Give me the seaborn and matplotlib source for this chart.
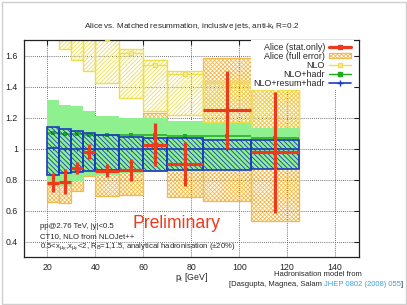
import matplotlib
matplotlib.use("Agg")
import matplotlib.pyplot as plt
from matplotlib.lines import Line2D
from matplotlib.patches import Patch, Rectangle
import pandas as pd
import seaborn as sns

# pt bins [GeV]
bin_lo = [20, 25, 30, 35, 40, 50, 60, 70, 85, 105]
bin_hi = [25, 30, 35, 40, 50, 60, 70, 85, 105, 125]

# Alice ratio, stat error and full error band
alice = [0.78, 0.785, 0.873, 0.98, 0.858, 0.86, 1.024, 0.90, 1.25, 0.975]
alice_stat = [0.06, 0.08, 0.04, 0.05, 0.045, 0.07, 0.14, 0.14, 0.25, 0.39]
alice_full_lo = [0.652, 0.648, 0.723, 0.82, 0.695, 0.70, 0.88, 0.686, 0.66, 0.533]
alice_full_hi = [0.91, 0.93, 1.02, 1.142, 1.02, 1.02, 1.232, 1.12, 1.587, 1.40]

# NLO
nlo = [1.85, 1.78, 1.74, 1.72, 1.71, 1.615, 1.54, 1.48, 1.42, 1.38]
nlo_lo = [1.72, 1.643, 1.57, 1.50, 1.422, 1.325, 1.24, 1.217, 1.17, 1.13]
nlo_hi = [2.0, 1.95, 1.9, 1.85, 1.9, 1.643, 1.568, 1.497, 1.437, 1.40]

# NLO+hadr
hadr = [1.097, 1.094, 1.092, 1.09, 1.088, 1.086, 1.084, 1.083, 1.082, 1.067]
hadr_lo = [0.76, 0.76, 0.79, 0.82, 0.83, 0.84, 0.85, 0.855, 0.86, 0.865]
hadr_hi = [1.314, 1.282, 1.271, 1.243, 1.211, 1.196, 1.196, 1.179, 1.164, 1.132]

# NLO+resum+hadr
resum = [1.003, 1.0, 1.0, 1.0, 0.998, 0.997, 0.997, 0.997, 0.997, 0.997]
resum_lo = [0.83, 0.841, 0.85, 0.852, 0.862, 0.852, 0.855, 0.862, 0.862, 0.867]
resum_hi = [1.138, 1.125, 1.11, 1.10, 1.088, 1.077, 1.07, 1.067, 1.056, 1.056]

x_ticks = [20, 40, 60, 80, 100, 120, 140]
y_ticks = [0.4, 0.6, 0.8, 1.0, 1.2, 1.4, 1.6]
y_ticklabels = ["0.4", "0.6", "0.8", "1", "1.2", "1.4", "1.6"]

RED = "#ee3a1c"
ORANGE = "#f5b94a"
YELLOW = "#eede4e"
GREEN_FILL = "#8ff08f"
GREEN = "#1faa1f"
BLUE = "#1c3cbc"
LINK = "#3fa2dc"

sns.set_style("white")
plt.rcParams["font.family"] = ["Liberation Sans", "DejaVu Sans"]
plt.rcParams["mathtext.default"] = "regular"
plt.rcParams["hatch.linewidth"] = 0.6

df = pd.DataFrame({
    "lo": bin_lo, "hi": bin_hi,
    "alice": alice, "stat": alice_stat,
    "full_lo": alice_full_lo, "full_hi": alice_full_hi,
    "nlo": nlo, "nlo_lo": nlo_lo, "nlo_hi": nlo_hi,
    "hadr": hadr, "hadr_lo": hadr_lo, "hadr_hi": hadr_hi,
    "resum": resum, "resum_lo": resum_lo, "resum_hi": resum_hi,
})
df["w"] = df["hi"] - df["lo"]
df["mid"] = (df["hi"] + df["lo"]) / 2

W, H = 407, 305
fig = plt.figure(figsize=(W / 100, H / 100), dpi=100)
ax = fig.add_axes([23.5 / W, 1 - 257 / H, (359 - 23.5) / W, (257 - 40) / H])

# grid (gnuplot-ish dotted)
ax.set_axisbelow(True)
ax.grid(True, color="#444444", linestyle=(0, (1, 1.5)), linewidth=0.6)

# Alice full error boxes (fine cross hatch)
ax.bar(df["lo"], df["full_hi"] - df["full_lo"], width=df["w"], bottom=df["full_lo"],
       align="edge", facecolor="none", edgecolor=ORANGE, hatch="xxxxxxxx", linewidth=0.9, zorder=2)

# NLO boxes
ax.bar(df["lo"], df["nlo_hi"] - df["nlo_lo"], width=df["w"], bottom=df["nlo_lo"],
       align="edge", facecolor="none", edgecolor=YELLOW, hatch="////////", linewidth=1.0, zorder=2)
ax.hlines(df["nlo"], df["lo"], df["hi"], color=YELLOW, linewidth=1.0, zorder=2)
sns.scatterplot(data=df, x="mid", y="nlo", marker="s", s=12, color="#f6ee9a",
                edgecolor=YELLOW, linewidth=0.8, ax=ax, zorder=3, legend=False)

# NLO+hadr band
ax.bar(df["lo"], df["hadr_hi"] - df["hadr_lo"], width=df["w"], bottom=df["hadr_lo"],
       align="edge", color=GREEN_FILL, linewidth=0, zorder=3)
ax.hlines(df["hadr"], df["lo"], df["hi"], color=GREEN, linewidth=1.1, zorder=4)
sns.scatterplot(data=df, x="mid", y="hadr", marker="s", s=7, color=GREEN,
                linewidth=0, ax=ax, zorder=4, legend=False)

# NLO+resum+hadr boxes
ax.bar(df["lo"], df["resum_hi"] - df["resum_lo"], width=df["w"], bottom=df["resum_lo"],
       align="edge", facecolor="none", edgecolor=BLUE, hatch="\\" * 7, linewidth=1.2, zorder=5)
ax.hlines(df["resum"], df["lo"], df["hi"], color=BLUE, linewidth=1.2, zorder=5)
sns.scatterplot(data=df, x="mid", y="resum", marker="|", s=12, color=BLUE,
                linewidth=0.8, ax=ax, zorder=5, legend=False)

# Alice stat-only crosses
ax.errorbar(df["mid"], df["alice"], xerr=df["w"] / 2, yerr=df["stat"], fmt="none",
            ecolor=RED, elinewidth=2.3, capsize=0, zorder=7)

ax.set_xlim(10, 150)
ax.set_ylim(0.3, 1.7)
ax.set_xticks(x_ticks)
ax.set_yticks(y_ticks)
ax.set_yticklabels(y_ticklabels)
ax.tick_params(direction="in", length=3.5, width=0.8, labelsize=6.3, top=True, right=True,
               pad=4, colors="#222222")
ax.set_xlabel("")
ax.set_ylabel("")
for sp in ax.spines.values():
    sp.set_color("#222222")
    sp.set_linewidth(0.9)

# legend
handles = [
    Line2D([], [], color=RED, lw=2.3, marker="s", ms=2.5),
    Patch(facecolor="none", edgecolor=ORANGE, hatch="xxxxxxxx", linewidth=0.9),
    Line2D([], [], color=YELLOW, lw=1.0, marker="s", ms=3.5, mfc="#f6ee9a", mec=YELLOW),
    Line2D([], [], color=GREEN, lw=1.0, marker="s", ms=2.5),
    Line2D([], [], color=BLUE, lw=1.2, marker="+", ms=4),
]
labels = ["Alice (stat.only)", "Alice (full error)", "NLO", "NLO+hadr", "NLO+resum+hadr"]
leg = ax.legend(handles, labels, loc="upper right", bbox_to_anchor=(0.985, 1.0),
                borderaxespad=0, borderpad=0.3, markerfirst=False, fontsize=6.4,
                handlelength=2.5, handleheight=0.5, handletextpad=0.45, labelspacing=0.0,
                frameon=True, framealpha=1, facecolor="white", edgecolor="none", fancybox=False)
leg.set_zorder(10)

# annotations inside the plot
ax.text(16.7, 0.497, "pp@2.76 TeV, |y|<0.5", fontsize=5.6, va="center", ha="left", zorder=8)
ax.text(16.7, 0.43, "CT10, NLO from NLOJet++", fontsize=5.6, va="center", ha="left", zorder=8)
ax.text(16.7, 0.366, r"0.5<x$_{\mu_R}$,x$_{\mu_F}$<2, R$_B$=1,1.5, analytical hadronisation (±20%)",
        fontsize=5.6, va="center", ha="left", zorder=8)
ax.text(73.8, 0.514, "Preliminary", color=RED, fontsize=12.7, va="center", ha="center", zorder=8)

# texts outside the axes
fig.text(191.5 / W, 1 - 26 / H, r"Alice vs. Matched resummation, inclusive jets, anti-k$_t$ R=0.2",
         fontsize=5.9, ha="center", va="center")
fig.text(192 / W, 1 - 277 / H, r"p$_t$ [GeV]", fontsize=6.3, ha="center", va="center")
fig.text(362 / W, 1 - 274 / H, "Hadronisation model from", fontsize=5.5, ha="right", va="center")
t_end = fig.text(403 / W, 1 - 284.5 / H, "]", fontsize=5.5, ha="right", va="center")
ann_link = ax.annotate("JHEP 0802 (2008) 055", xy=(0, 0), xycoords=t_end, ha="right", va="bottom",
                       fontsize=5.5, color=LINK, annotation_clip=False)
ax.annotate("[Dasgupta, Magnea, Salam ", xy=(0, 0), xycoords=ann_link, ha="right", va="bottom",
            fontsize=5.5, annotation_clip=False)

# thin grey frame around the page
fig.patches.append(Rectangle((1.5 / W, 1.5 / H), 1 - 3 / W, 1 - 3 / H, transform=fig.transFigure,
                             fill=False, edgecolor="#cfcfcf", linewidth=1.0))

fig.savefig("out.png", dpi=100)
